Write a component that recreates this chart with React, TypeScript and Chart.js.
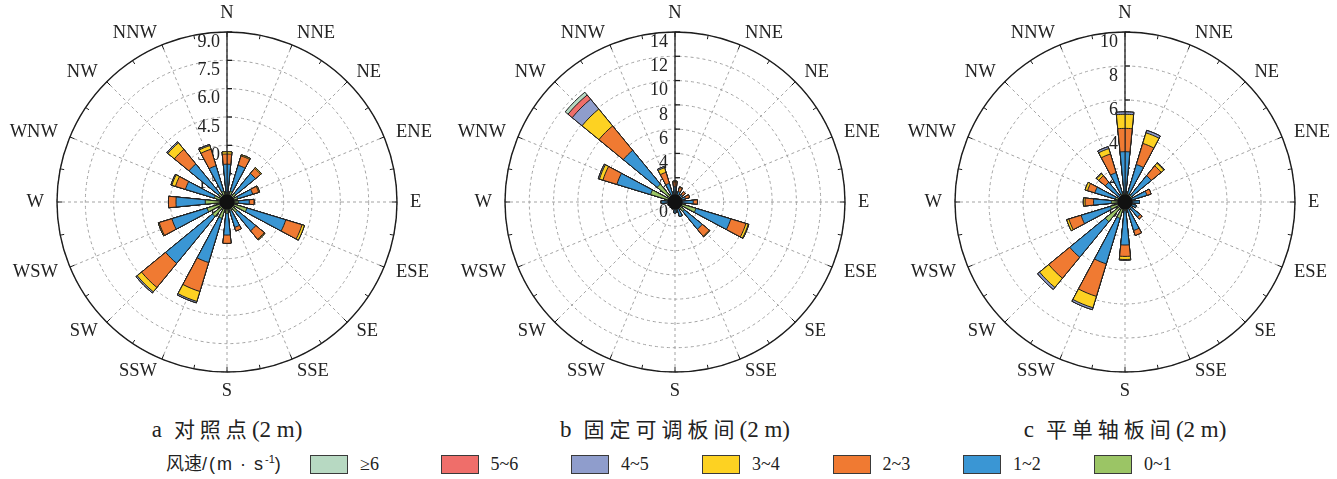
import { useEffect, useRef } from 'react';
import { Chart, registerables } from 'chart.js';

Chart.register(...registerables);

// Compass sectors, clockwise from north
const directions = ['N', 'NNE', 'NE', 'ENE', 'E', 'ESE', 'SE', 'SSE', 'S', 'SSW', 'SW', 'WSW', 'W', 'WNW', 'NW', 'NNW'];

// Wind-speed classes (m/s), innermost first
const speedClasses = ['0~1', '1~2', '2~3', '3~4', '4~5', '5~6', '≥6'];
const classColors = ['#9bc565', '#3a96d4', '#f07a32', '#fdd222', '#8f9dcc', '#ef6e6a', '#b7d9c2'];

// a 对照点 — frequency per direction for each speed class
const ctrl01 = [0.5, 0.6, 0.6, 0.6, 0.6, 1.1, 0.7, 0.5, 0.6, 0.9, 1.0, 1.1, 1.15, 0.7, 0.6, 0.6];
const ctrl12 = [1.5, 1.43, 1.35, 0.82, 0.58, 2.15, 1.27, 0.9, 1.15, 2.45, 3.2, 1.95, 1.55, 1.6, 2.0, 1.4];
const ctrl23 = [0.54, 0.52, 0.35, 0.33, 0.25, 0.9, 0.58, 0.2, 0.44, 1.6, 1.65, 0.7, 0.4, 0.55, 1.0, 0.92];
const ctrl34 = [0.12, 0.06, 0.06, 0.05, 0, 0.13, 0.05, 0, 0, 0.55, 0.3, 0.05, 0, 0.2, 0.45, 0.2];
const ctrl45 = [0, 0, 0, 0, 0, 0, 0, 0, 0, 0.08, 0.08, 0, 0, 0.05, 0.07, 0.06];
const ctrl56 = [0, 0, 0, 0, 0, 0, 0, 0, 0, 0, 0, 0, 0, 0, 0, 0];
const ctrl6p = [0, 0, 0, 0, 0, 0, 0, 0, 0, 0, 0, 0, 0, 0, 0, 0];

// b 固定可调板间
const fixed01 = [0.4, 0.3, 0.3, 0.3, 0.4, 1.8, 1.0, 0.4, 0.3, 0.2, 0.2, 0.2, 0.3, 2.1, 1.9, 0.6];
const fixed12 = [0.85, 0.6, 0.5, 0.6, 1.1, 3.0, 1.9, 0.85, 0.6, 0.4, 0.3, 0.4, 0.8, 2.9, 3.6, 1.0];
const fixed23 = [0.4, 0.35, 0.3, 0.35, 0.35, 1.3, 0.75, 0, 0, 0, 0, 0, 0.05, 1.2, 2.6, 0.95];
const fixed34 = [0.07, 0.05, 0, 0, 0, 0.2, 0.05, 0, 0, 0, 0, 0, 0, 0.3, 1.8, 0.4];
const fixed45 = [0, 0, 0, 0, 0, 0.05, 0, 0, 0, 0, 0, 0, 0, 0.1, 1.05, 0.1];
const fixed56 = [0, 0, 0, 0, 0, 0, 0, 0, 0, 0, 0, 0, 0, 0, 0.45, 0];
const fixed6p = [0, 0, 0, 0, 0, 0, 0, 0, 0, 0, 0, 0, 0, 0, 0.3, 0];

// c 平单轴板间
const axis01 = [0.5, 0.5, 0.5, 0.4, 0.3, 0.3, 0.4, 0.4, 0.5, 1.0, 1.5, 0.9, 0.8, 0.6, 0.4, 0.5];
const axis12 = [2.46, 1.8, 1.5, 0.95, 0.55, 0.4, 0.75, 1.35, 2.03, 2.8, 2.7, 1.8, 1.05, 1.25, 1.1, 1.3];
const axis23 = [1.37, 1.3, 0.75, 0.25, 0, 0, 0.15, 0.3, 0.67, 2.0, 1.6, 0.75, 0.5, 0.45, 0.5, 1.15];
const axis34 = [0.83, 0.65, 0.2, 0, 0, 0, 0, 0, 0.18, 0.7, 0.7, 0.13, 0.1, 0.15, 0.15, 0.33];
const axis45 = [0.14, 0.15, 0.05, 0, 0, 0, 0, 0, 0.04, 0.12, 0.15, 0, 0, 0, 0.05, 0.12];
const axis56 = [0, 0, 0, 0, 0, 0, 0, 0, 0, 0, 0, 0, 0, 0, 0, 0];
const axis6p = [0, 0, 0, 0, 0, 0, 0, 0, 0, 0, 0, 0, 0, 0, 0, 0];

const SERIF = '"Liberation Serif", "Times New Roman", "Noto Sans CJK SC", serif';
const RING_LABEL_GAP = 13;
const CANVAS_W = 446;
const CANVAS_H = 404;
const PAD_X = 53;
const PAD_Y = 32;

// Each petal covers half of its 22.5° sector; the north petal is split across 0°.
const sectorAngles = [5.625, ...Array(31).fill(11.25), 5.625];

function expand(values: number[]): number[] {
  const out: number[] = [values[0]];
  for (let d = 1; d < 16; d++) out.push(0, values[d]);
  out.push(0, values[0]);
  return out;
}

const roseDecor = {
  id: 'roseDecor',
  beforeDatasetsDraw(chart: any, _args: any, opts: any) {
    const s = chart.scales.r;
    const ctx = chart.ctx as CanvasRenderingContext2D;
    const cx = s.xCenter;
    const cy = s.yCenter;
    const R = s.drawingArea;
    ctx.save();
    ctx.setLineDash([]);
    ctx.strokeStyle = '#1c1c1c';
    ctx.lineWidth = 1.4;
    ctx.beginPath();
    ctx.arc(cx, cy, R, 0, Math.PI * 2);
    ctx.stroke();
    ctx.lineWidth = 1;
    for (let i = 0; i < 32; i++) {
      const a = (i * Math.PI) / 16 - Math.PI / 2;
      const len = i % 2 === 0 ? 5 : 4;
      ctx.beginPath();
      ctx.moveTo(cx + Math.cos(a) * R, cy + Math.sin(a) * R);
      ctx.lineTo(cx + Math.cos(a) * (R - len), cy + Math.sin(a) * (R - len));
      ctx.stroke();
    }
    ctx.lineWidth = 1.3;
    ctx.beginPath();
    ctx.moveTo(cx, cy);
    ctx.lineTo(cx, cy - R);
    ctx.stroke();
    ctx.font = `18px ${SERIF}`;
    ctx.fillStyle = '#222';
    ctx.textAlign = 'right';
    ctx.textBaseline = 'middle';
    s.ticks.forEach((t: any) => {
      const y = cy - s.getDistanceFromCenterForValue(t.value);
      ctx.beginPath();
      ctx.moveTo(cx, y);
      ctx.lineTo(cx + 5, y);
      ctx.stroke();
      const txt = t.value === 0 ? '0' : t.value.toFixed(opts.decimals);
      ctx.fillText(txt, cx - 7, y + 10);
    });
    // compass labels: inner edge at a fixed gap outside the ring
    ctx.font = `18.5px ${SERIF}`;
    chart.data.labels.forEach((lab: string, i: number) => {
      const ang = s.getIndexAngle(i);
      const deg = Math.round((ang * 180) / Math.PI) % 360;
      const a = ang - Math.PI / 2;
      let r = R + RING_LABEL_GAP;
      if (deg === 0 || deg === 180) {
        ctx.textAlign = 'center';
        r += 6;
      } else {
        ctx.textAlign = deg < 180 ? 'left' : 'right';
      }
      ctx.fillText(lab, cx + Math.cos(a) * r, cy + Math.sin(a) * r);
    });
    ctx.restore();
  },
  afterDatasetsDraw(chart: any) {
    const s = chart.scales.r;
    const ctx = chart.ctx as CanvasRenderingContext2D;
    ctx.save();
    ctx.fillStyle = '#111';
    ctx.beginPath();
    ctx.arc(s.xCenter, s.yCenter, 7.5, 0, Math.PI * 2);
    ctx.fill();
    ctx.restore();
  },
};

type RoseProps = { series: number[][]; max: number; step: number; decimals: number; cx: number };

function WindRose({ series, max, step, decimals, cx }: RoseProps) {
  const ref = useRef<HTMLCanvasElement | null>(null);
  useEffect(() => {
    if (!ref.current) return;
    const cumulative = series.map((_, k) =>
      directions.map((__, d) => series.slice(0, k + 1).reduce((sum, arr) => sum + arr[d], 0)),
    );
    const chart = new Chart(ref.current, {
      type: 'polarArea',
      data: {
        labels: directions,
        datasets: cumulative.map((vals, k) => ({
          label: speedClasses[k],
          data: expand(vals),
          backgroundColor: classColors[k],
          borderColor: '#1e1e1e',
          borderWidth: 1,
          angle: sectorAngles,
        })) as any,
      },
      options: {
        responsive: false,
        animation: false,
        events: [],
        layout: { padding: { left: PAD_X, right: PAD_X, top: PAD_Y, bottom: PAD_Y } },
        plugins: {
          legend: { display: false },
          tooltip: { enabled: false },
          roseDecor: { decimals },
        } as any,
        scales: {
          r: {
            min: 0,
            max,
            startAngle: 0,
            ticks: { display: false, stepSize: step },
            grid: { color: '#a3a3a3', lineWidth: 1, circular: true },
            border: { dash: [3, 3] },
            angleLines: { display: true, color: '#a3a3a3', lineWidth: 1, borderDash: [3, 3] },
            pointLabels: { display: false },
          } as any,
        },
      },
      plugins: [roseDecor as any],
    });
    return () => chart.destroy();
  }, [series, max, step, decimals]);
  return (
    <canvas
      ref={ref}
      width={CANVAS_W}
      height={CANVAS_H}
      style={{ position: 'absolute', left: cx - CANVAS_W / 2, top: 0, width: CANVAS_W, height: CANVAS_H }}
    />
  );
}

const ctrlSeries = [ctrl01, ctrl12, ctrl23, ctrl34, ctrl45, ctrl56, ctrl6p];
const fixedSeries = [fixed01, fixed12, fixed23, fixed34, fixed45, fixed56, fixed6p];
const axisSeries = [axis01, axis12, axis23, axis34, axis45, axis56, axis6p];

const panels = [
  { key: 'a', letter: 'a', name: '对照点', series: ctrlSeries, max: 9, step: 1.5, decimals: 1, cx: 227 },
  { key: 'b', letter: 'b', name: '固定可调板间', series: fixedSeries, max: 14, step: 2, decimals: 0, cx: 675 },
  { key: 'c', letter: 'c', name: '平单轴板间', series: axisSeries, max: 10, step: 2, decimals: 0, cx: 1125 },
];

const legendLeft = [310, 440.5, 571, 702, 832.5, 963, 1094];

export default function App() {
  const legendOrder = [6, 5, 4, 3, 2, 1, 0];
  return (
    <div
      style={{
        position: 'absolute',
        left: 0,
        top: 0,
        width: 1337,
        height: 479,
        overflow: 'hidden',
        background: '#fff',
        color: '#222',
      }}
    >
      {panels.map((p) => (
        <WindRose key={p.key} series={p.series} max={p.max} step={p.step} decimals={p.decimals} cx={p.cx} />
      ))}
      {panels.map((p) => (
        <div
          key={'cap' + p.key}
          style={{
            position: 'absolute',
            left: p.cx - 200,
            width: 400,
            top: 413,
            lineHeight: '30px',
            textAlign: 'center',
            fontFamily: SERIF,
            fontSize: 23,
            whiteSpace: 'nowrap',
          }}
        >
          <span>{p.letter}</span>
          <span style={{ marginLeft: 12, letterSpacing: 5, fontFamily: '"Noto Sans CJK SC", sans-serif', fontSize: 21 }}>
            {p.name}
          </span>
          <span>(2 m)</span>
        </div>
      ))}
      <div
        style={{
          position: 'absolute',
          left: 166,
          top: 452,
          lineHeight: '24px',
          fontSize: 18,
          fontFamily: '"Liberation Sans", "Noto Sans CJK SC", sans-serif',
          whiteSpace: 'nowrap',
        }}
      >
        风速
        <span style={{ letterSpacing: 2 }}>
          /(m<span style={{ margin: '0 6px' }}>·</span>s
          <sup style={{ fontSize: 11, verticalAlign: 'top', lineHeight: '14px', letterSpacing: 0 }}>-1</sup>)
        </span>
      </div>
      {legendOrder.map((k, i) => (
        <div key={'lg' + k}>
          <div
            style={{
              position: 'absolute',
              left: legendLeft[i],
              top: 455,
              width: 38,
              height: 19,
              boxSizing: 'border-box',
              border: '1.5px solid #3a3a3a',
              background: classColors[k],
            }}
          />
          <div
            style={{
              position: 'absolute',
              left: legendLeft[i] + 50,
              top: 452,
              lineHeight: '24px',
              fontSize: 18,
              fontFamily: SERIF,
              whiteSpace: 'nowrap',
            }}
          >
            {speedClasses[k]}
          </div>
        </div>
      ))}
    </div>
  );
}
